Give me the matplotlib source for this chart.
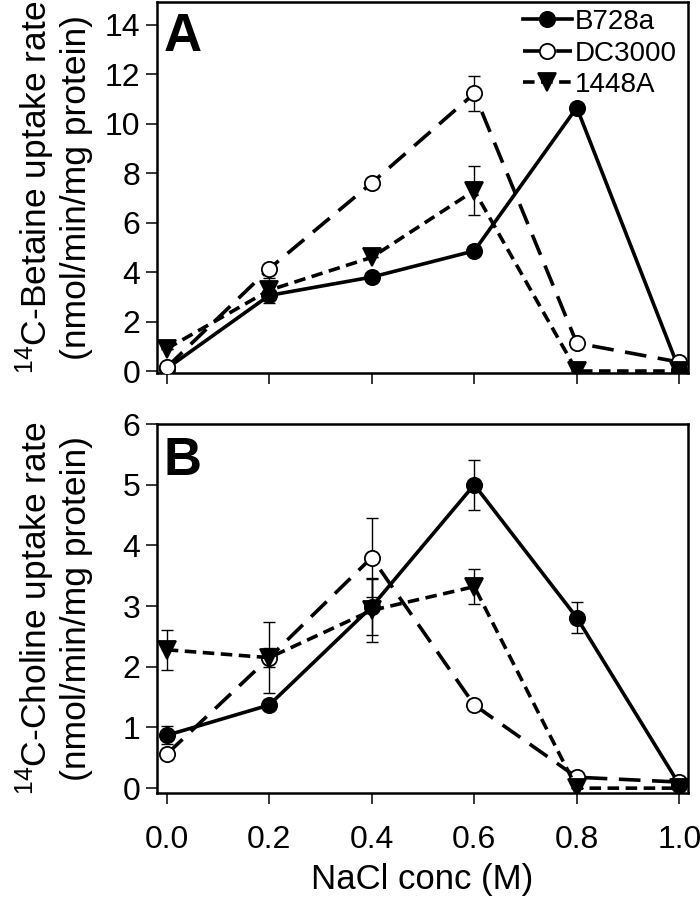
import numpy as np
import matplotlib
matplotlib.use('Agg')
import matplotlib.pyplot as plt

# Fonts: Arial look-alike, mathtext in the same face for the 14C superscript
plt.rcParams['font.family'] = 'Liberation Sans'
plt.rcParams['mathtext.fontset'] = 'custom'
plt.rcParams['mathtext.rm'] = 'Liberation Sans'
plt.rcParams['mathtext.default'] = 'regular'

# Data
nacl = [0.0, 0.2, 0.4, 0.6, 0.8, 1.0]
x_tick_labels = ['0.0', '0.2', '0.4', '0.6', '0.8', '1.0']
strains = ['B728a', 'DC3000', '1448A']

betaine_b728a = [0.10, 3.06, 3.80, 4.86, 10.66, 0.05]
betaine_b728a_err = [0, 0, 0, 0, 0, 0]
betaine_dc3000 = [0.15, 4.14, 7.61, 11.23, 1.13, 0.36]
betaine_dc3000_err = [0, 0, 0, 0.72, 0, 0]
betaine_1448a = [0.90, 3.27, 4.60, 7.30, 0.0, 0.0]
betaine_1448a_err = [0, 0.50, 0, 1.0, 0, 0]

choline_b728a = [0.87, 1.37, 2.99, 5.00, 2.81, 0.06]
choline_b728a_err = [0.15, 0, 0.47, 0.41, 0.25, 0]
choline_dc3000 = [0.56, 2.15, 3.80, 1.37, 0.18, 0.10]
choline_dc3000_err = [0, 0.58, 0.65, 0, 0, 0]
choline_1448a = [2.28, 2.15, 2.93, 3.32, 0.0, 0.0]
choline_1448a_err = [0.33, 0.16, 0.52, 0.29, 0, 0]

# line / marker styles per strain
styles = [
    dict(ls='-', mfc='black', marker='o', ms=11),
    dict(ls=(0, (6.0, 3.2)), mfc='white', marker='o', ms=11),
    dict(ls=(0, (3.2, 1.8)), mfc='black', marker='v', ms=12.5),
]

W, H = 700, 909
fig = plt.figure(figsize=(W / 100, H / 100), dpi=100)

def px_axes(left, top, right, bottom):
    return fig.add_axes([left / W, 1 - bottom / H, (right - left) / W, (bottom - top) / H])

axA = px_axes(157, 2, 688, 373)
axB = px_axes(157, 424, 688, 793)

def draw_panel(ax, values, errs):
    for name, y, e, st in zip(strains, values, errs, styles):
        ax.errorbar(nacl, y, yerr=e, fmt='none', ecolor='black', elinewidth=1.0,
                    capsize=4.5, capthick=1.0, zorder=2)
        ax.plot(nacl, y, color='black', lw=2.6, ls=st['ls'], marker=st['marker'],
                ms=st['ms'], mfc=st['mfc'], mec='black', mew=1.3, label=name, zorder=3)
    ax.set_xlim(-0.019, 1.017)
    ax.set_xticks(nacl)
    for sp in ax.spines.values():
        sp.set_linewidth(1.8)
    ax.tick_params(direction='out', length=8, width=1.1, labelsize=23, pad=4,
                   top=False, right=False)
    ax.tick_params(axis='x', pad=15)

draw_panel(axA, [betaine_b728a, betaine_dc3000, betaine_1448a],
           [betaine_b728a_err, betaine_dc3000_err, betaine_1448a_err])
draw_panel(axB, [choline_b728a, choline_dc3000, choline_1448a],
           [choline_b728a_err, choline_dc3000_err, choline_1448a_err])

axA.set_ylim(-0.08, 14.93)
axA.set_yticks(np.arange(0, 15, 2))
axA.set_xticklabels([])
axB.set_ylim(-0.08, 6.0)
axB.set_yticks(np.arange(0, 7, 1))
axB.set_xticklabels(x_tick_labels)

axA.set_ylabel('$^{14}$C-Betaine uptake rate\n(nmol/min/mg protein)', fontsize=25.5,
               linespacing=1.1)
axB.set_ylabel('$^{14}$C-Choline uptake rate\n(nmol/min/mg protein)', fontsize=25.5,
               linespacing=1.1)
axA.yaxis.set_label_coords((93 - 157) / 531, 0.5)
axB.yaxis.set_label_coords((93 - 157) / 531, 0.5)
axB.set_xlabel('NaCl conc (M)', fontsize=25, labelpad=6)

axA.text(0.012, 0.868, 'A', transform=axA.transAxes, fontsize=38, fontweight='bold',
         va='baseline', ha='left')
axB.text(0.012, 0.862, 'B', transform=axB.transAxes, fontsize=38, fontweight='bold',
         va='baseline', ha='left')

axA.legend(loc='upper left', bbox_to_anchor=(523 / W, 1 - 9 / H),
           bbox_transform=fig.transFigure, frameon=False, fontsize=20,
           handlelength=1.75, handletextpad=0.12, labelspacing=0.2,
           borderpad=0, borderaxespad=0, numpoints=1)

fig.savefig('out.png', dpi=100)
